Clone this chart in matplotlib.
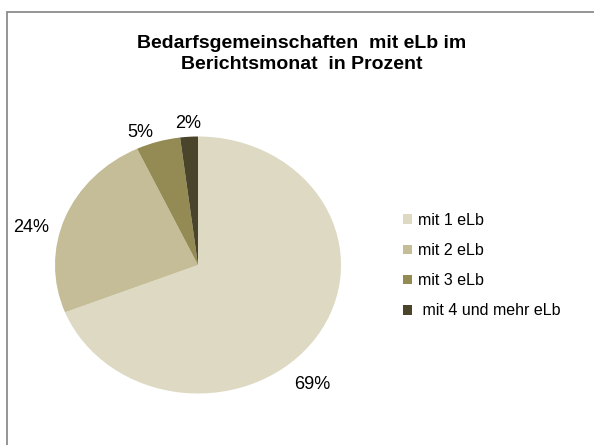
import matplotlib.pyplot as plt
from matplotlib.patches import Rectangle, Patch

TITLE = "Bedarfsgemeinschaften  mit eLb im\nBerichtsmonat  in Prozent"
CATEGORIES = ["mit 1 eLb", "mit 2 eLb", "mit 3 eLb", " mit 4 und mehr eLb"]
VALUES = [69, 24, 5, 2]
COLORS = ["#DDD9C3", "#C4BD97", "#948A54", "#4A452A"]
# where Excel put the percent labels, in pie units (radius = 1)
LABEL_XY = [(0.80, -0.93), (-1.17, 0.29), (-0.40, 1.03), (-0.07, 1.10)]

plt.rcParams["font.family"] = ["Liberation Sans", "DejaVu Sans"]

W, H = 594, 445
fig = plt.figure(figsize=(W / 100, H / 100), dpi=100)
# chart area border (runs off the right and bottom edge)
fig.patches.append(Rectangle((7 / W, -20 / H), 600 / W, (H - 12 + 20) / H,
                             transform=fig.transFigure, fill=False,
                             edgecolor="#8c8c8c", linewidth=1.3))

fig.text(302 / W, 1 - 54 / H, TITLE, ha="center", va="center", fontsize=14,
         fontweight="bold", linespacing=1.3)

# pie plot area is a bit wider than tall, as in the original
cx, cy, rx, ry = 198, 265, 143, 128.5
ax = fig.add_axes([(cx - rx) / W, 1 - (cy + ry) / H, 2 * rx / W, 2 * ry / H])
ax.pie(VALUES, colors=COLORS, startangle=90, counterclock=False,
       radius=1, wedgeprops=dict(linewidth=0))
ax.set_xlim(-1, 1)
ax.set_ylim(-1, 1)
ax.set_aspect("auto")
ax.axis("off")

for v, (x, y) in zip(VALUES, LABEL_XY):
    ax.text(x, y, f"{v}%", ha="center", va="center", fontsize=13, clip_on=False)

handles = [Patch(facecolor=c, edgecolor="none") for c in COLORS]
fig.legend(handles, CATEGORIES, loc="center left", bbox_to_anchor=(0.655, 0.403),
           frameon=False, fontsize=11.5, handlelength=0.55, handleheight=0.55,
           handletextpad=0.35, labelspacing=0.95)

fig.savefig("out.png", dpi=100)
